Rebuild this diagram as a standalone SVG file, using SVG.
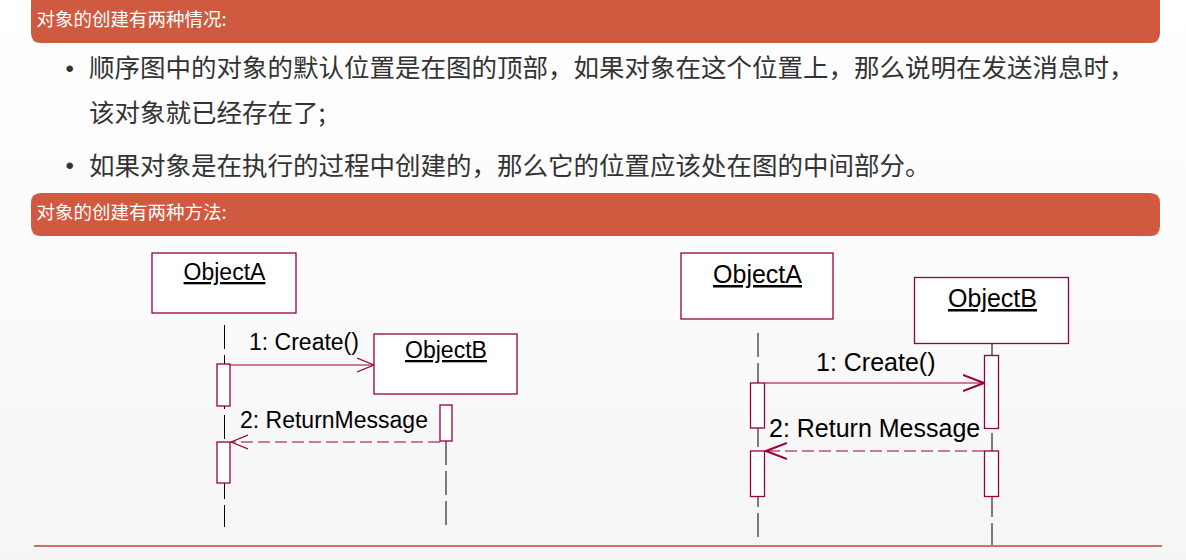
<svg xmlns="http://www.w3.org/2000/svg" width="1186" height="560" viewBox="0 0 1186 560">
<defs>
<linearGradient id="bg" x1="0" y1="0" x2="0" y2="1">
<stop offset="0" stop-color="#ffffff"/>
<stop offset="0.5" stop-color="#fbfbfb"/>
<stop offset="1" stop-color="#f5f5f5"/>
</linearGradient>
<marker id="openL" viewBox="0 0 18 16" markerWidth="18" markerHeight="16" refX="17" refY="8" orient="auto" markerUnits="userSpaceOnUse">
<path d="M0,1 L17,8 L0,15" fill="none" stroke="#99003d" stroke-width="1.2"/>
</marker>
<marker id="openR" viewBox="0 0 22 18" markerWidth="22" markerHeight="18" refX="21" refY="9" orient="auto" markerUnits="userSpaceOnUse">
<path d="M0,1 L21,9 L0,17" fill="none" stroke="#99003d" stroke-width="2"/>
</marker>
</defs>
<style>
.bar{fill:#d05a40}
.bartxt{font-family:"Noto Sans CJK SC",sans-serif;font-size:18.5px;fill:#ffffff}
.body{font-family:"Noto Sans CJK SC",sans-serif;font-size:25.5px;fill:#333333}
.dot{font-family:"Liberation Sans",Arial,sans-serif;font-size:24px;fill:#333333}
.obj{fill:#ffffff;stroke:#99003d;stroke-width:1.3}
.act{fill:#ffffff;stroke:#99003d;stroke-width:1.3}
.life{stroke:#000000;stroke-width:1;stroke-dasharray:24 6;fill:none}
.msg{stroke:#99003d;stroke-width:1.2;fill:none}
.ret{stroke:#99003d;stroke-width:1.2;fill:none;stroke-dasharray:12 5}
.lblS{font-family:"Liberation Sans",Arial,sans-serif;font-size:23px;fill:#000000}
.lblL{font-family:"Liberation Sans",Arial,sans-serif;font-size:25px;fill:#000000}
</style>
<rect x="0" y="0" width="1186" height="560" fill="url(#bg)"/>

<g id="header1">
<path class="bar" d="M31,0 H1160 V33 Q1160,43 1150,43 H41 Q31,43 31,33 Z"/>
<text class="bartxt" x="36.5" y="26">对象的创建有两种情况:</text>
</g>
<g id="bullets">
<text class="dot" x="65.5" y="77">•</text>
<text class="body" x="89" y="77">顺序图中的对象的默认位置是在图的顶部，如果对象在这个位置上，那么说明在发送消息时，</text>
<text class="body" x="89" y="122">该对象就已经存在了;</text>
<text class="dot" x="65.5" y="174">•</text>
<text class="body" x="89" y="175">如果对象是在执行的过程中创建的，那么它的位置应该处在图的中间部分。</text>
</g>
<g id="header2">
<path class="bar" d="M41,193 H1150 Q1160,193 1160,203 V226 Q1160,236 1150,236 H41 Q31,236 31,226 V203 Q31,193 41,193 Z"/>
<text class="bartxt" x="36.5" y="219">对象的创建有两种方法:</text>
</g>

<g id="connectors">
<line class="life" x1="224.5" y1="325" x2="224.5" y2="527"/>
<line class="life" x1="446" y1="441" x2="446" y2="527"/>
<line class="life" x1="758" y1="333" x2="758" y2="540"/>
<line class="life" x1="992" y1="343" x2="992" y2="545"/>
<line class="msg" x1="230" y1="365" x2="374" y2="365" marker-end="url(#openL)"/>
<line class="ret" x1="440" y1="442" x2="231" y2="442" marker-end="url(#openL)"/>
<line class="msg" x1="765" y1="383" x2="984" y2="383" marker-end="url(#openR)"/>
<line class="ret" x1="984" y1="451" x2="766" y2="451" marker-end="url(#openR)"/>
<text class="lblS" x="249" y="350">1: Create()</text>
<text class="lblS" x="240" y="428">2: ReturnMessage</text>
<text class="lblL" x="816" y="371">1: Create()</text>
<text class="lblL" x="769" y="437">2: Return Message</text>
</g>

<g id="left-objectA">
<rect class="obj" x="152" y="253" width="144" height="60"/>
<text class="lblS" x="224.5" y="280" text-anchor="middle" text-decoration="underline">ObjectA</text>
</g>
<g id="left-actA1"><rect class="act" x="217" y="364" width="13" height="42"/></g>
<g id="left-actA2"><rect class="act" x="217" y="442" width="13" height="41"/></g>
<g id="left-objectB">
<rect class="obj" x="374" y="334" width="143" height="60"/>
<text class="lblS" x="446" y="358" text-anchor="middle" text-decoration="underline">ObjectB</text>
</g>
<g id="left-actB"><rect class="act" x="440" y="405" width="12" height="36"/></g>

<g id="right-objectA">
<rect class="obj" x="681" y="253" width="152" height="66"/>
<text class="lblL" x="757.5" y="283" text-anchor="middle" text-decoration="underline">ObjectA</text>
</g>
<g id="right-actA1"><rect class="act" x="750.5" y="383" width="14" height="45"/></g>
<g id="right-actA2"><rect class="act" x="750.5" y="451" width="14" height="45.5"/></g>
<g id="right-objectB">
<rect class="obj" x="914.5" y="277.5" width="154" height="66"/>
<text class="lblL" x="992.5" y="307" text-anchor="middle" text-decoration="underline">ObjectB</text>
</g>
<g id="right-actB1"><rect class="act" x="984.5" y="355.5" width="14" height="73"/></g>
<g id="right-actB2"><rect class="act" x="984.5" y="451" width="14" height="45.5"/></g>

<line x1="34" y1="546" x2="1162" y2="546" stroke="#c0432b" stroke-width="1.5"/>
</svg>
